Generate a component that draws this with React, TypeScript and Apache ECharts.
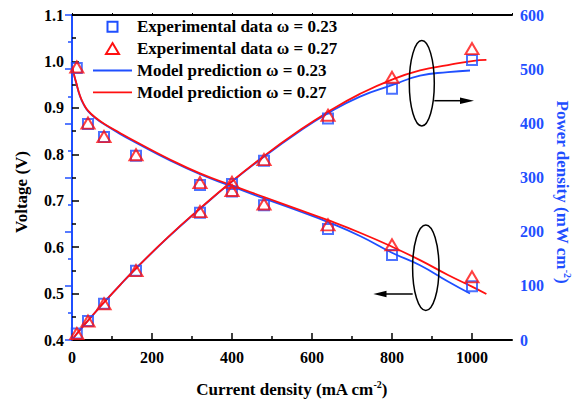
import React, { useEffect, useRef } from "react";
import * as echarts from "echarts";

const currentExp = [12, 40, 80, 160, 320, 400, 480, 640, 800, 1000];
const voltageExp023 = [0.986, 0.865, 0.837, 0.797, 0.734, 0.72, 0.69, 0.639, 0.583, 0.516];
const voltageExp027 = [0.988, 0.867, 0.838, 0.799, 0.739, 0.722, 0.693, 0.648, 0.605, 0.536];
const powerExp023 = [12, 35, 67, 128, 235, 288, 331, 409, 464, 517];
const powerExp027 = [12, 35, 67, 128, 237, 291, 333, 415, 485, 538];

const currentModel023 = [0, 5, 10, 20, 30, 40, 60, 80, 120, 160, 240, 320, 400, 480, 560, 640, 720, 800, 870, 940, 995];
const voltageModel023 = [0.99, 0.971, 0.955, 0.925, 0.906, 0.893, 0.877, 0.865, 0.844, 0.825, 0.789, 0.757, 0.731, 0.705, 0.68, 0.654, 0.624, 0.588, 0.561, 0.526, 0.5];
const powerModel023 = [0, 4.9, 9.6, 18.5, 27.2, 35.7, 52.6, 69.2, 101.3, 132.0, 189.4, 242.2, 292.4, 338.4, 380.8, 418.6, 449.3, 470.4, 488.1, 494.4, 497.5];

const currentModel027 = [0, 5, 10, 20, 30, 40, 60, 80, 120, 160, 240, 320, 400, 480, 560, 640, 720, 800, 870, 940, 1000, 1036];
const voltageModel027 = [0.99, 0.972, 0.956, 0.926, 0.907, 0.894, 0.878, 0.866, 0.846, 0.827, 0.791, 0.759, 0.733, 0.708, 0.683, 0.658, 0.631, 0.601, 0.572, 0.54, 0.515, 0.499];
const powerModel027 = [0, 4.9, 9.6, 18.5, 27.2, 35.8, 52.7, 69.3, 101.5, 132.3, 189.8, 242.9, 293.2, 339.8, 382.5, 421.1, 454.3, 480.8, 497.6, 507.6, 515.0, 517.0];

const xMajorTicks = [0, 200, 400, 600, 800, 1000];
const xMinorTicks = [100, 300, 500, 700, 900];

const legendNames = [
  "Experimental data ω = 0.23",
  "Experimental data ω = 0.27",
  "Model prediction ω = 0.23",
  "Model prediction ω = 0.27",
];

const BLUE = "#1f4fff";
const RED = "#ff1010";
const FONT = "Liberation Serif";

const zip = (xs: number[], ys: number[]) => xs.map((x, i) => [x, ys[i]]);

export default function App() {
  const ref = useRef<HTMLDivElement>(null);
  useEffect(() => {
    document.body.style.margin = "0";
    const chart = echarts.init(ref.current!, null, { renderer: "svg" });
    const tickLabel = { fontFamily: FONT, fontWeight: "bold" as const, fontSize: 16, color: "#000" };
    const squareStyle = { color: "rgba(0,0,0,0)", borderColor: BLUE, borderWidth: 2 };
    const triStyle = { color: "rgba(0,0,0,0)", borderColor: RED, borderWidth: 2 };
    const nameRich = {
      n: { fontFamily: FONT, fontWeight: "bold", fontSize: 17, lineHeight: 20 },
      s: { fontFamily: FONT, fontWeight: "bold", fontSize: 10, lineHeight: 12, verticalAlign: "top" },
    };
    const legendX = 93, legendY = 26.7, legendStep = 21.9, iconW = 39;
    const legendGraphics: any[] = [];
    legendNames.forEach((name, i) => {
      const cy = legendY + i * legendStep;
      if (i === 0) {
        legendGraphics.push({ type: "rect", shape: { x: legendX + iconW / 2 - 5, y: cy - 5, width: 10, height: 10 }, style: { fill: "none", stroke: BLUE, lineWidth: 2 }, z: 20 });
      } else if (i === 1) {
        const cx = legendX + iconW / 2;
        legendGraphics.push({ type: "polygon", shape: { points: [[cx, cy - 5.5], [cx + 6.5, cy + 5.5], [cx - 6.5, cy + 5.5]] }, style: { fill: "none", stroke: RED, lineWidth: 2 }, z: 20 });
      } else {
        legendGraphics.push({ type: "line", shape: { x1: legendX, y1: cy, x2: legendX + iconW, y2: cy }, style: { stroke: i === 2 ? BLUE : RED, lineWidth: 1.8 }, z: 20 });
      }
      legendGraphics.push({
        type: "text", x: legendX + iconW + 5, y: cy, z: 20,
        style: { text: name, fontFamily: FONT, fontWeight: "bold", fontSize: 17, fill: "#000", align: "left", verticalAlign: "middle" },
      });
    });
    chart.setOption({
      animation: false,
      backgroundColor: "#fff",
      grid: { left: 72, right: 61, top: 15, bottom: 61, containLabel: false },
      xAxis: [
        {
          type: "value", min: 0, max: 1100, interval: 200, position: "bottom",
          axisLine: { lineStyle: { color: "#000", width: 2 } },
          axisTick: { inside: true, length: 7, customValues: xMajorTicks, lineStyle: { color: "#000", width: 1.5 } },
          axisLabel: { ...tickLabel, margin: 9, customValues: xMajorTicks, formatter: (v: number) => String(v) },
          splitLine: { show: false },
        },
        {
          type: "value", min: 0, max: 1100, interval: 100, position: "bottom",
          axisLine: { show: false },
          axisTick: { inside: true, length: 4, customValues: xMinorTicks, lineStyle: { color: "#000", width: 1.5 } },
          axisLabel: { show: false },
          splitLine: { show: false },
        },
        {
          type: "value", min: 0, max: 1100, interval: 100, position: "top",
          axisLine: { lineStyle: { color: "#000", width: 2 } },
          axisTick: { inside: false, length: 2, lineStyle: { color: "#000", width: 1 } },
          axisLabel: { show: false },
          splitLine: { show: false },
        },
      ],
      yAxis: [
        {
          type: "value", min: 0.4, max: 1.1, interval: 0.1, position: "left",
          axisLine: { show: true, lineStyle: { color: "#000", width: 2 } },
          axisTick: { show: true, inside: true, length: 7, lineStyle: { color: "#000", width: 1.5 } },
          minorTick: { show: true, splitNumber: 2, length: 4, lineStyle: { color: "#000", width: 1.5 } },
          axisLabel: { ...tickLabel, margin: 8, formatter: (v: number) => v.toFixed(1) },
          splitLine: { show: false },
        },
        {
          type: "value", min: 0, max: 600, interval: 100, position: "right",
          axisLine: { show: true, lineStyle: { color: BLUE, width: 2 } },
          axisTick: { show: true, inside: true, length: 7, lineStyle: { color: BLUE, width: 1.5 } },
          minorTick: { show: true, splitNumber: 2, length: 4, lineStyle: { color: BLUE, width: 1.5 } },
          axisLabel: { ...tickLabel, color: BLUE, margin: 8, formatter: (v: number) => String(v) },
          splitLine: { show: false },
        },
      ],
      series: [
        { name: legendNames[2], type: "line", xAxisIndex: 0, yAxisIndex: 0, data: zip(currentModel023, voltageModel023), smooth: true, symbol: "none", lineStyle: { color: BLUE, width: 1.8 }, itemStyle: { color: BLUE }, z: 2 },
        { name: legendNames[2], type: "line", xAxisIndex: 0, yAxisIndex: 1, data: zip(currentModel023, powerModel023), smooth: true, symbol: "none", lineStyle: { color: BLUE, width: 1.8 }, itemStyle: { color: BLUE }, z: 2 },
        { name: legendNames[3], type: "line", xAxisIndex: 0, yAxisIndex: 0, data: zip(currentModel027, voltageModel027), smooth: true, symbol: "none", lineStyle: { color: RED, width: 1.8 }, itemStyle: { color: RED }, z: 2 },
        { name: legendNames[3], type: "line", xAxisIndex: 0, yAxisIndex: 1, data: zip(currentModel027, powerModel027), smooth: true, symbol: "none", lineStyle: { color: RED, width: 1.8 }, itemStyle: { color: RED }, z: 2 },
        { name: legendNames[0], type: "scatter", xAxisIndex: 0, yAxisIndex: 0, data: zip(currentExp, voltageExp023), symbol: "rect", symbolSize: 10, itemStyle: squareStyle, z: 3 },
        { name: legendNames[0], type: "scatter", xAxisIndex: 0, yAxisIndex: 1, data: zip(currentExp, powerExp023), symbol: "rect", symbolSize: 10, itemStyle: squareStyle, z: 3 },
        { name: legendNames[1], type: "scatter", xAxisIndex: 0, yAxisIndex: 0, data: zip(currentExp, voltageExp027), symbol: "triangle", symbolSize: [13, 11], itemStyle: triStyle, z: 4 },
        { name: legendNames[1], type: "scatter", xAxisIndex: 0, yAxisIndex: 1, data: zip(currentExp, powerExp027), symbol: "triangle", symbolSize: [13, 11], itemStyle: triStyle, z: 4 },
      ],
      graphic: [
        ...legendGraphics,
        { type: "ellipse", shape: { cx: 421.8, cy: 83.3, rx: 12.5, ry: 42.7 }, style: { fill: "none", stroke: "#000", lineWidth: 1.5 }, z: 10 },
        { type: "line", shape: { x1: 434.3, y1: 100.7, x2: 462, y2: 100.7 }, style: { stroke: "#000", lineWidth: 1.5 }, z: 10 },
        { type: "polygon", shape: { points: [[474, 100.7], [460, 97.5], [460, 103.9]] }, style: { fill: "#000" }, z: 10 },
        { type: "ellipse", shape: { cx: 425.8, cy: 267.8, rx: 13.2, ry: 42.8 }, style: { fill: "none", stroke: "#000", lineWidth: 1.5 }, z: 10 },
        { type: "line", shape: { x1: 412.7, y1: 294, x2: 385, y2: 294 }, style: { stroke: "#000", lineWidth: 1.5 }, z: 10 },
        { type: "polygon", shape: { points: [[373.3, 294], [386.5, 290.8], [386.5, 297.2]] }, style: { fill: "#000" }, z: 10 },
        {
          type: "text", x: 21.5, y: 192, rotation: Math.PI / 2,
          style: { text: "Voltage (V)", fontFamily: FONT, fontWeight: "bold", fontSize: 17, fill: "#000", align: "center", verticalAlign: "middle" },
        },
        {
          type: "text", x: 291.7, y: 389,
          style: { text: "{n|Current density (mA cm}{s|-2}{n|)}", rich: nameRich, fill: "#000", align: "center", verticalAlign: "middle" },
        },
        {
          type: "text", x: 562, y: 192, rotation: -Math.PI / 2,
          style: { text: "{n|Power density (mW cm}{s|-2}{n|)}", rich: nameRich, fill: BLUE, align: "center", verticalAlign: "middle" },
        },
      ],
    });
    return () => chart.dispose();
  }, []);
  return <div ref={ref} style={{ width: 573, height: 401 }} />;
}
